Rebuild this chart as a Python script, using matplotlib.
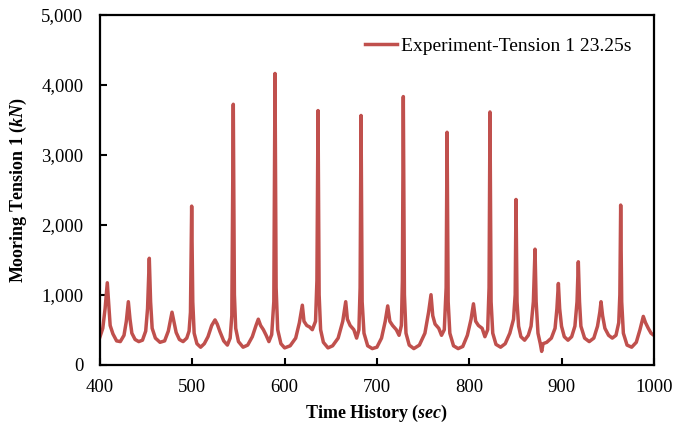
import numpy as np
import matplotlib
matplotlib.use("Agg")
import matplotlib.pyplot as plt
from matplotlib.ticker import FuncFormatter

plt.rcParams['font.family'] = ['Liberation Serif', 'DejaVu Serif']
plt.rcParams['mathtext.fontset'] = 'custom'
plt.rcParams['mathtext.it'] = 'Liberation Serif:italic:bold'
plt.rcParams['mathtext.rm'] = 'Liberation Serif:bold'

# key points (time s, tension kN)
time = [
    400, 403, 405.5, 407.9, 409.5, 411, 414, 418, 422, 426, 428.5, 430.7, 432.5, 434.5,
    438, 442, 446, 449.5, 451.5, 453.4, 454.8, 456.5, 460, 465, 470, 474, 476.5, 478,
    480, 482.5, 486, 490, 494, 496.5, 498, 499.3, 500.5, 502, 505, 509, 513, 517, 521,
    524.6, 527, 530, 534, 538, 541, 542.8, 544.4, 545.6, 547, 550, 555, 560, 565, 569,
    571.5, 574, 577, 580, 583, 586, 588.3, 589.6, 590.8, 592.5, 596, 600, 606, 612, 616,
    619.2, 621, 624, 627, 630, 633.5, 635, 636.2, 637.4, 639, 642, 647, 652, 658, 663,
    666.2, 668, 671, 675, 678, 680.5, 681.8, 682.8, 684, 686, 690, 695, 700, 705, 709,
    711.7, 714, 717, 721, 724, 726.5, 727.6, 728.6, 729.8, 731.5, 735, 740, 746, 752,
    756, 758.6, 760.5, 763, 767, 770, 773, 775, 776, 777.2, 779, 783, 788, 793, 798,
    802, 804.6, 807, 810, 814, 817, 820, 821.5, 822.5, 823.7, 825.5, 829, 834, 839,
    844, 848, 849.8, 850.7, 851.8, 853.5, 856, 860, 864, 867, 869.5, 871.3, 872.5,
    874.5, 877, 878.5, 880, 884, 889, 893, 895, 896.6, 898, 900, 903, 907, 911, 914.5,
    916.8, 918.2, 919.5, 921, 925, 930, 935, 939, 941.5, 942.8, 944.5, 947, 951, 955,
    959, 962, 963.2, 964.1, 965.2, 967, 971, 976, 981, 985, 988.6, 991, 994, 997, 1000,
]
tension = [
    400, 520, 800, 1170, 850, 560, 440, 340, 330, 420, 620, 900, 650, 450,
    360, 330, 350, 480, 800, 1520, 900, 520, 380, 320, 340, 480, 650, 750,
    620, 460, 360, 330, 380, 480, 750, 2265, 900, 450, 300, 250, 300, 400, 560,
    640, 580, 470, 340, 280, 380, 700, 3720, 1000, 520, 330, 250, 280, 400, 560,
    650, 560, 500, 420, 330, 430, 900, 4160, 1100, 500, 300, 240, 270, 380, 600,
    850, 620, 560, 540, 500, 620, 1200, 3630, 1000, 500, 320, 240, 270, 380, 620,
    900, 650, 560, 500, 380, 500, 1100, 3560, 900, 450, 270, 230, 250, 380, 620,
    840, 620, 560, 500, 420, 560, 1200, 3830, 1000, 450, 280, 230, 280, 450,
    750, 1000, 700, 580, 520, 420, 500, 1100, 3320, 900, 450, 270, 230, 260, 420,
    650, 870, 620, 560, 520, 400, 500, 1100, 3610, 900, 450, 290, 250, 300,
    450, 650, 1000, 2360, 900, 550, 400, 350, 420, 550, 900, 1650, 900,
    450, 300, 190, 300, 320, 380, 520, 800, 1160, 800, 550, 400, 350, 400, 550,
    900, 1470, 900, 550, 380, 330, 380, 550, 750, 900, 700, 520, 420, 380,
    420, 600, 1000, 2280, 900, 450, 280, 250, 320, 500, 690, 600, 520, 450, 420,
]

fig = plt.figure(figsize=(6.73, 4.28), dpi=100)
ax = fig.add_axes([0.1486, 0.1479, 0.8229, 0.8178])

ax.plot(time, tension, color="#C0504D", lw=2.5, label="Experiment-Tension 1 23.25s")

ax.set_xlim(400, 1000)
ax.set_ylim(0, 5000)
ax.set_xticks(np.arange(400, 1001, 100))
ax.set_yticks(np.arange(0, 5001, 1000))
ax.yaxis.set_major_formatter(FuncFormatter(lambda v, p: f"{int(v):,}"))
ax.tick_params(direction="in", length=5, width=1.5, labelsize=13.5)
ax.tick_params(axis="x", pad=10)
ax.tick_params(axis="y", pad=12)
for s in ax.spines.values():
    s.set_linewidth(1.6)

ax.set_xlabel(r"Time History ($\it{sec}$)", fontsize=13, fontweight="bold", labelpad=5)
ax.set_ylabel(r"Mooring Tension 1 ($\it{kN}$)", fontsize=13, fontweight="bold", labelpad=9)

ax.legend(loc="upper right", frameon=False, fontsize=14, handlelength=1.65,
          handletextpad=0.2, borderaxespad=0.75)

fig.savefig("out.png", dpi=100)
